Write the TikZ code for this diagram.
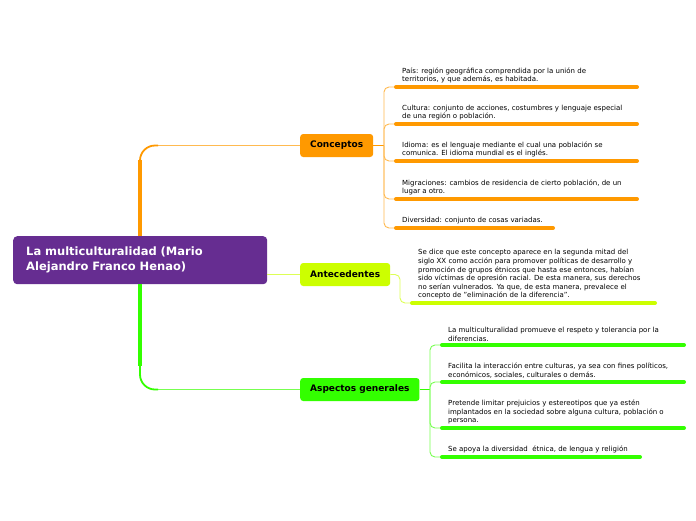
\documentclass[tikz,border=0pt]{standalone}
\usepackage{fontspec}
\setmainfont{DejaVu Sans}
\usepackage{xcolor}
\definecolor{rootpurple}{HTML}{662D91}
\definecolor{concorange}{HTML}{FF9900}
\definecolor{concline}{HTML}{FFBA50}
\definecolor{antelime}{HTML}{CCFF00}
\definecolor{anteline}{HTML}{DDFF55}
\definecolor{aspgreen}{HTML}{33FF00}
\definecolor{aspline}{HTML}{77FF50}
\newcommand{\leaffont}{\fontsize{7}{8.6}\selectfont}

\begin{document}
\begin{tikzpicture}[
  x=1pt, y=-1pt,
  mainbox/.style={fill=rootpurple, rounded corners=4pt, text=white,
                  font=\fontsize{11.5}{15}\selectfont\bfseries,
                  text width=228pt, align=left, inner xsep=13pt,
                  minimum height=48pt, anchor=north west},
  branch/.style={rounded corners=3pt, inner xsep=10pt,
                 font=\fontsize{9}{10}\selectfont\bfseries,
                 minimum height=23pt, anchor=west},
  leaf/.style={font=\leaffont, align=left, inner xsep=6pt,
               inner ysep=3.5pt, anchor=south west},
  arm/.style={line width=3.4pt},
  armbend/.style={line width=1.8pt, rounded corners=15pt},
  twig/.style={line width=0.9pt, rounded corners=5pt},
  uline/.style={line width=4pt, line cap=round}
]
\path[use as bounding box, fill=white] (0,0) rectangle (696,520);

\coordinate (rspine) at (140,0);
\coordinate (cspine) at (384,0);
\coordinate (aspine) at (400,0);
\coordinate (gspine) at (430,0);

% main topic and branches
\node[mainbox] (root) at (13,236) {La multiculturalidad (Mario\\Alejandro Franco Henao)};
\node[branch, fill=concorange] (conc) at (300,145.5) {Conceptos};
\node[branch, fill=antelime] (ante) at (300,274.5) {Antecedentes};
\node[branch, fill=aspgreen] (asp) at (300,389.5) {Aspectos generales};

% arms from the main topic
\draw[line width=1pt, concline] ([xshift=-145pt]conc.west) -- (conc.west);
\draw[armbend, concorange] ([yshift=66pt]root.north -| rspine) |- ([xshift=-142pt]conc.west);
\draw[arm, concorange] (root.north -| rspine) -- ++(0,-76);
\draw[line width=1pt, aspline] ([xshift=-145pt]asp.west) -- (asp.west);
\draw[armbend, aspgreen] ([yshift=-72pt]root.south -| rspine) |- ([xshift=-142pt]asp.west);
\draw[arm, aspgreen] (root.south -| rspine) -- ++(0,82);
\draw[line width=1pt, anteline] (root.east |- ante.west) -- (ante.west);

% Conceptos
\node[leaf] (c1) at (396,87) {País: región geográfica comprendida por la unión de\\territorios, y que además, es habitada.};
\node[leaf] (c2) at (396,124) {Cultura: conjunto de acciones, costumbres y lenguaje especial\\de una región o población.};
\node[leaf] (c3) at (396,161) {Idioma: es el lenguaje mediante el cual una población se\\comunica. El idioma mundial es el inglés.};
\node[leaf] (c4) at (396,199) {Migraciones: cambios de residencia de cierto población, de un\\lugar a otro.};
\node[leaf] (c5) at (396,228) {Diversidad: conjunto de cosas variadas.};

\draw[line width=1pt, concorange] (conc.east) -- (conc.east -| cspine);
\foreach \n in {c1,c2,c3,c4,c5}
  \draw[twig, concline] (conc.east -| cspine) |- (\n.south west);
\foreach \n in {c1,c2,c3,c4}
  \draw[uline, concorange] (\n.south west) -- ++(241,0);
\draw[uline, concorange] (c5.south west) -- ++(157,0);

% Antecedentes
\node[leaf] (a1) at (412,303) {Se dice que este concepto aparece en la segunda mitad del\\siglo XX como acción para promover políticas de desarrollo y\\promoción de grupos étnicos que hasta ese entonces, habían\\sido víctimas de opresión racial. De esta manera, sus derechos\\no serían vulnerados. Ya que, de esta manera, prevalece el\\concepto de "eliminación de la diferencia".};
\draw[twig, anteline] (ante.east) -- (ante.east -| aspine) |- (a1.south west);
\draw[uline, antelime] (a1.south west) -- ++(243,0);

% Aspectos generales
\node[leaf] (g1) at (442,345) {La multiculturalidad promueve el respeto y tolerancia por la\\diferencias.};
\node[leaf] (g2) at (442,382) {Facilita la interacción entre culturas, ya sea con fines políticos,\\económicos, sociales, culturales o demás.};
\node[leaf] (g3) at (442,428) {Pretende limitar prejuicios y estereotipos que ya estén\\implantados en la sociedad sobre alguna cultura, población o\\persona.};
\node[leaf] (g4) at (442,457) {Se apoya la diversidad~ étnica, de lengua y religión};

\draw[line width=1pt, aspgreen] (asp.east) -- (asp.east -| gspine);
\foreach \n in {g1,g2,g3,g4}
  \draw[twig, aspline] (asp.east -| gspine) |- (\n.south west);
\foreach \n in {g1,g2,g3}
  \draw[uline, aspgreen] (\n.south west) -- ++(242,0);
\draw[uline, aspgreen] (g4.south west) -- ++(198,0);
\end{tikzpicture}
\end{document}
